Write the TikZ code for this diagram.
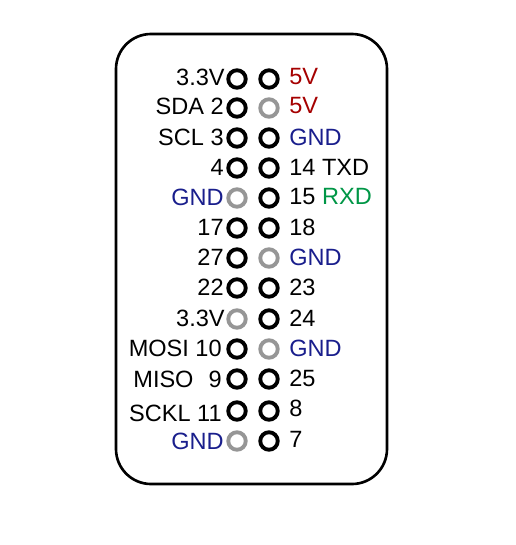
\documentclass[tikz,border=0pt]{standalone}
\usepackage{fontspec}
\setmainfont{Liberation Sans}
\usepackage{xcolor}
\usepackage{tikz}
\definecolor{pwr}{RGB}{165,0,0}
\definecolor{gnd}{RGB}{25,30,140}
\definecolor{rxd}{RGB}{0,150,70}
\definecolor{nc}{RGB}{150,150,150}

\begin{document}
\begin{tikzpicture}[x=0.02cm,y=-0.02cm,font=\fontsize{13.4}{15}\selectfont,
pin/.style={draw,circle,line width=2.2pt,minimum size=0.35cm,inner sep=0pt},
dead/.style={pin,draw=nc},
lname/.style={anchor=east,inner sep=0pt},
rname/.style={anchor=west,inner sep=0pt}]
\useasboundingbox (0,0) rectangle (516,545);
\draw[line width=1.5pt,rounded corners=0.7cm] (116,34) rectangle (387,484);
\node[pin] (p1) at (237,79) {};
\node[pin] (p2) at (269,79) {};
\node[pin] (p3) at (237,108) {};
\node[dead] (p4) at (269,108) {};
\node[pin] (p5) at (237,138) {};
\node[pin] (p6) at (269,138) {};
\node[pin] (p7) at (237,168) {};
\node[pin] (p8) at (269,168) {};
\node[dead] (p9) at (237,198) {};
\node[pin] (p10) at (269,198) {};
\node[pin] (p11) at (237,228) {};
\node[pin] (p12) at (269,228) {};
\node[pin] (p13) at (237,258) {};
\node[dead] (p14) at (269,258) {};
\node[pin] (p15) at (237,288) {};
\node[pin] (p16) at (269,288) {};
\node[dead] (p17) at (237,319) {};
\node[pin] (p18) at (269,319) {};
\node[pin] (p19) at (237,349) {};
\node[dead] (p20) at (269,349) {};
\node[pin] (p21) at (237,379) {};
\node[pin] (p22) at (269,379) {};
\node[pin] (p23) at (237,411) {};
\node[pin] (p24) at (269,411) {};
\node[dead] (p25) at (237,441) {};
\node[pin] (p26) at (269,441) {};
\node[lname] (t1) at (225,77) {3.3V};
\node[rname,text=pwr] (t2) at (289,77) {5V};
\node[lname] (t3) at (224,106) {SDA 2};
\node[rname,text=pwr] (t4) at (289,106) {5V};
\node[lname] (t5) at (224,137) {SCL 3};
\node[rname,text=gnd] (t6) at (289,137) {GND};
\node[lname] (t7) at (224,167) {4};
\node[rname] (t8) at (289,167) {14 TXD};
\node[lname,text=gnd] (t9) at (224,197) {GND};
\node[rname] (t10) at (289,197) {15 \textcolor{rxd}{RXD}};
\node[lname] (t11) at (224,227) {17};
\node[rname] (t12) at (289,227) {18};
\node[lname] (t13) at (224,257) {27};
\node[rname,text=gnd] (t14) at (289,257) {GND};
\node[lname] (t15) at (224,287) {22};
\node[rname] (t16) at (289,287) {23};
\node[lname] (t17) at (225,318) {3.3V};
\node[rname] (t18) at (289,318) {24};
\node[lname] (t19) at (222,348) {MOSI 10};
\node[rname,text=gnd] (t20) at (289,348) {GND};
\node[lname] (t21) at (222,379) {MISO\hspace{0.3cm}9};
\node[rname] (t22) at (289,378) {25};
\node[lname] (t23) at (222,413) {SCKL 11};
\node[rname] (t24) at (289,408) {8};
\node[lname,text=gnd] (t25) at (224,441) {GND};
\node[rname] (t26) at (289,439) {7};
\end{tikzpicture}
\end{document}
